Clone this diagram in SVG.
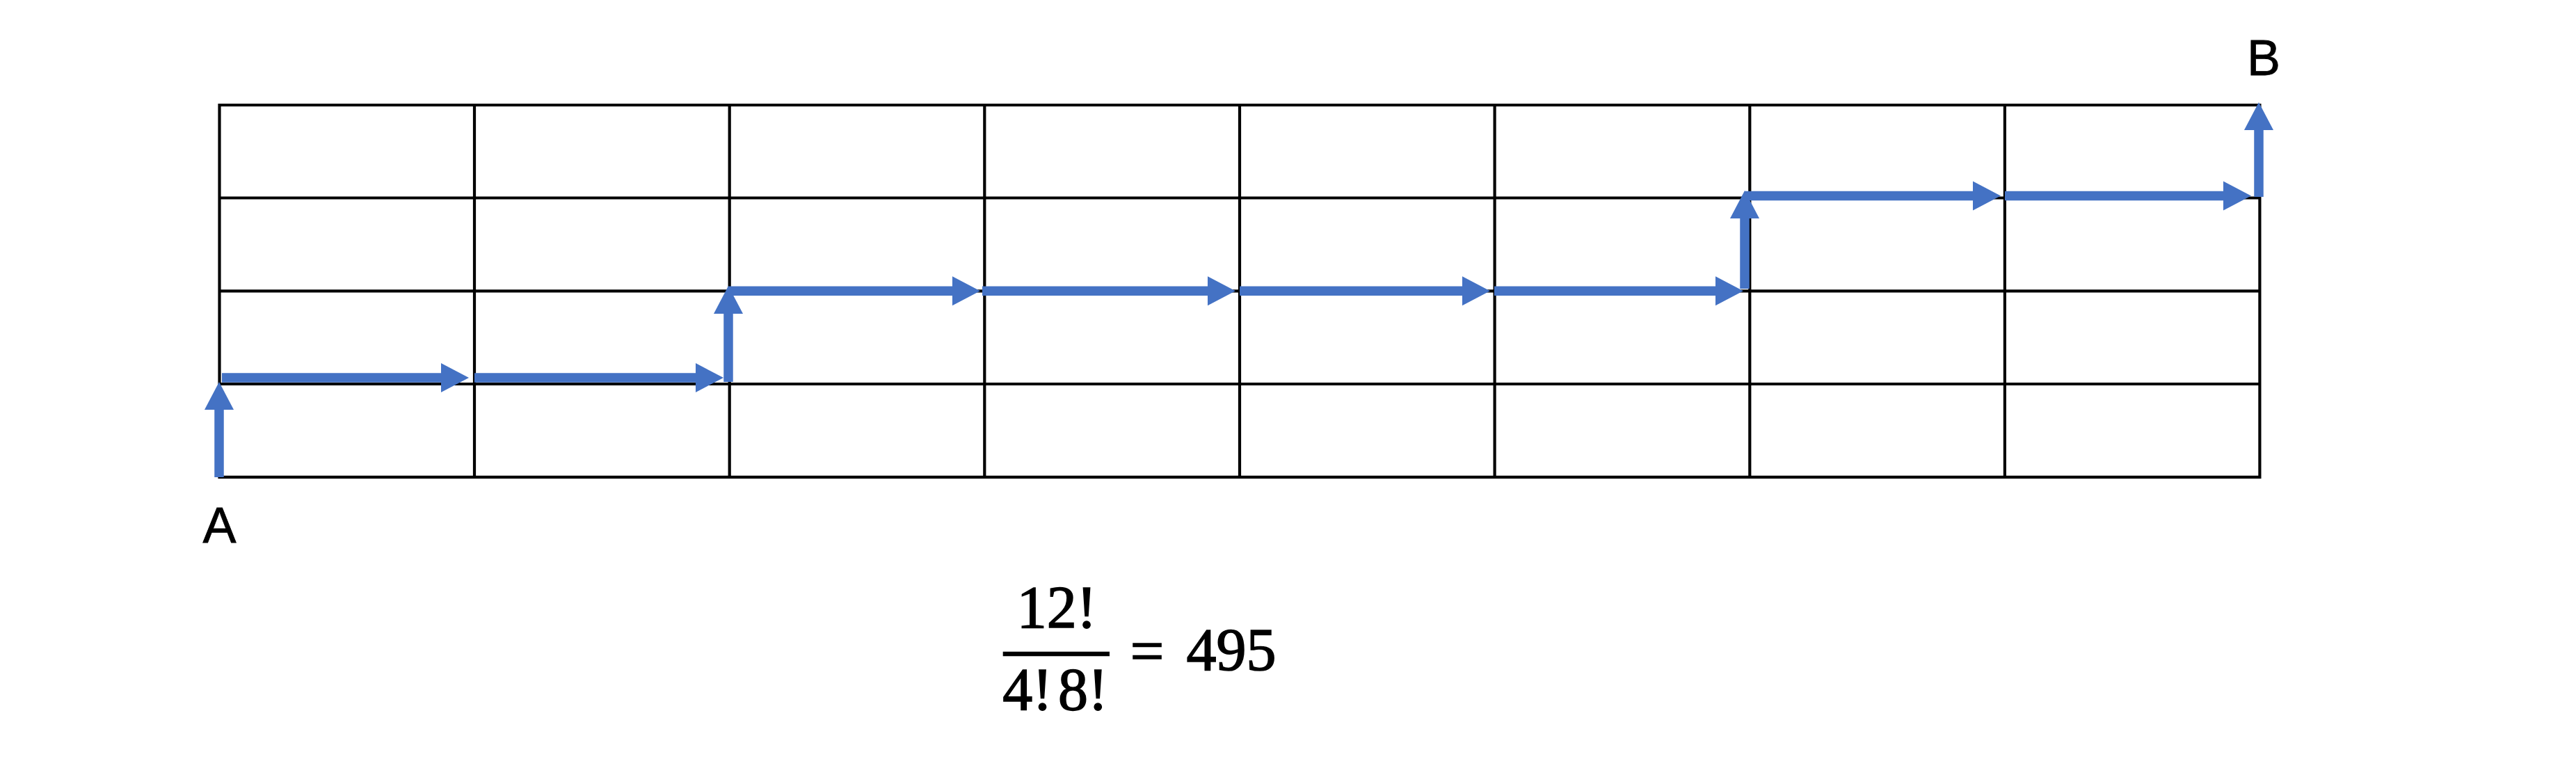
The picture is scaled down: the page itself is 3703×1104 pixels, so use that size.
<svg xmlns="http://www.w3.org/2000/svg" width="3703" height="1104" viewBox="0 0 3703 1104">
<style>
.grid line{stroke:#000;stroke-width:4.2}
.path line{stroke:#4472C4;stroke-width:13.5;marker-end:url(#ah)}
.lbl{font-family:"Liberation Sans",Arial,sans-serif;font-size:72px;fill:#000;stroke:#000;stroke-width:0.8;text-anchor:middle}
.math{font-family:"Liberation Serif","Times New Roman",serif;font-size:86px;fill:#000;stroke:#000;stroke-width:1.6;text-anchor:middle}
</style>
<defs>
<marker id="ah" markerUnits="userSpaceOnUse" markerWidth="41" markerHeight="42" refX="0" refY="21" orient="auto" overflow="visible">
<path d="M0,0 L40,21 L0,42 Z" fill="#4472C4"/>
</marker>
</defs>
<rect width="3703" height="1104" fill="#fff"/>
<g id="grid" class="grid">
<line x1="315.5" y1="151" x2="3248.5" y2="151"/>
<line x1="315.5" y1="284.5" x2="3248.5" y2="284.5"/>
<line x1="315.5" y1="418.3" x2="3248.5" y2="418.3"/>
<line x1="315.5" y1="552" x2="3248.5" y2="552"/>
<line x1="315.5" y1="685.8" x2="3248.5" y2="685.8"/>
<line x1="315.5" y1="149" x2="315.5" y2="688"/>
<line x1="682" y1="149" x2="682" y2="688"/>
<line x1="1048.7" y1="149" x2="1048.7" y2="688"/>
<line x1="1415.3" y1="149" x2="1415.3" y2="688"/>
<line x1="1782" y1="149" x2="1782" y2="688"/>
<line x1="2148.6" y1="149" x2="2148.6" y2="688"/>
<line x1="2515.3" y1="149" x2="2515.3" y2="688"/>
<line x1="2881.9" y1="149" x2="2881.9" y2="688"/>
<line x1="3248.4" y1="149" x2="3248.4" y2="688"/>
</g>
<g id="connectors" class="path">
<line x1="315" y1="686" x2="315" y2="589"/>
<line x1="319" y1="543" x2="634" y2="543"/>
<line x1="682" y1="543" x2="1000" y2="543"/>
<line x1="1047" y1="549" x2="1047" y2="451"/>
<line x1="1047" y1="418.3" x2="1369" y2="418.3"/>
<line x1="1412" y1="418.3" x2="1736" y2="418.3"/>
<line x1="1782" y1="418.3" x2="2102" y2="418.3"/>
<line x1="2148" y1="418.3" x2="2466" y2="418.3"/>
<line x1="2508" y1="415" x2="2508" y2="314"/>
<line x1="2508" y1="281.5" x2="2836" y2="281.5"/>
<line x1="2882" y1="281.5" x2="3196" y2="281.5"/>
<line x1="3247" y1="283" x2="3247" y2="187"/>
</g>
<g id="node-A"><text class="lbl" x="315.5" y="780">A</text></g>
<g id="node-B"><text class="lbl" x="3254" y="108">B</text></g>
<g id="formula">
<text class="math" x="1519" y="902">12!</text>
<line x1="1441.7" y1="940" x2="1595" y2="940" stroke="#000" stroke-width="6.7"/>
<text class="math" x="1517" y="1020">4!<tspan dx="8">8!</tspan></text>
<text class="math" x="1649" y="965" font-size="96">=</text>
<text class="math" x="1770" y="963">495</text>
</g>
</svg>
